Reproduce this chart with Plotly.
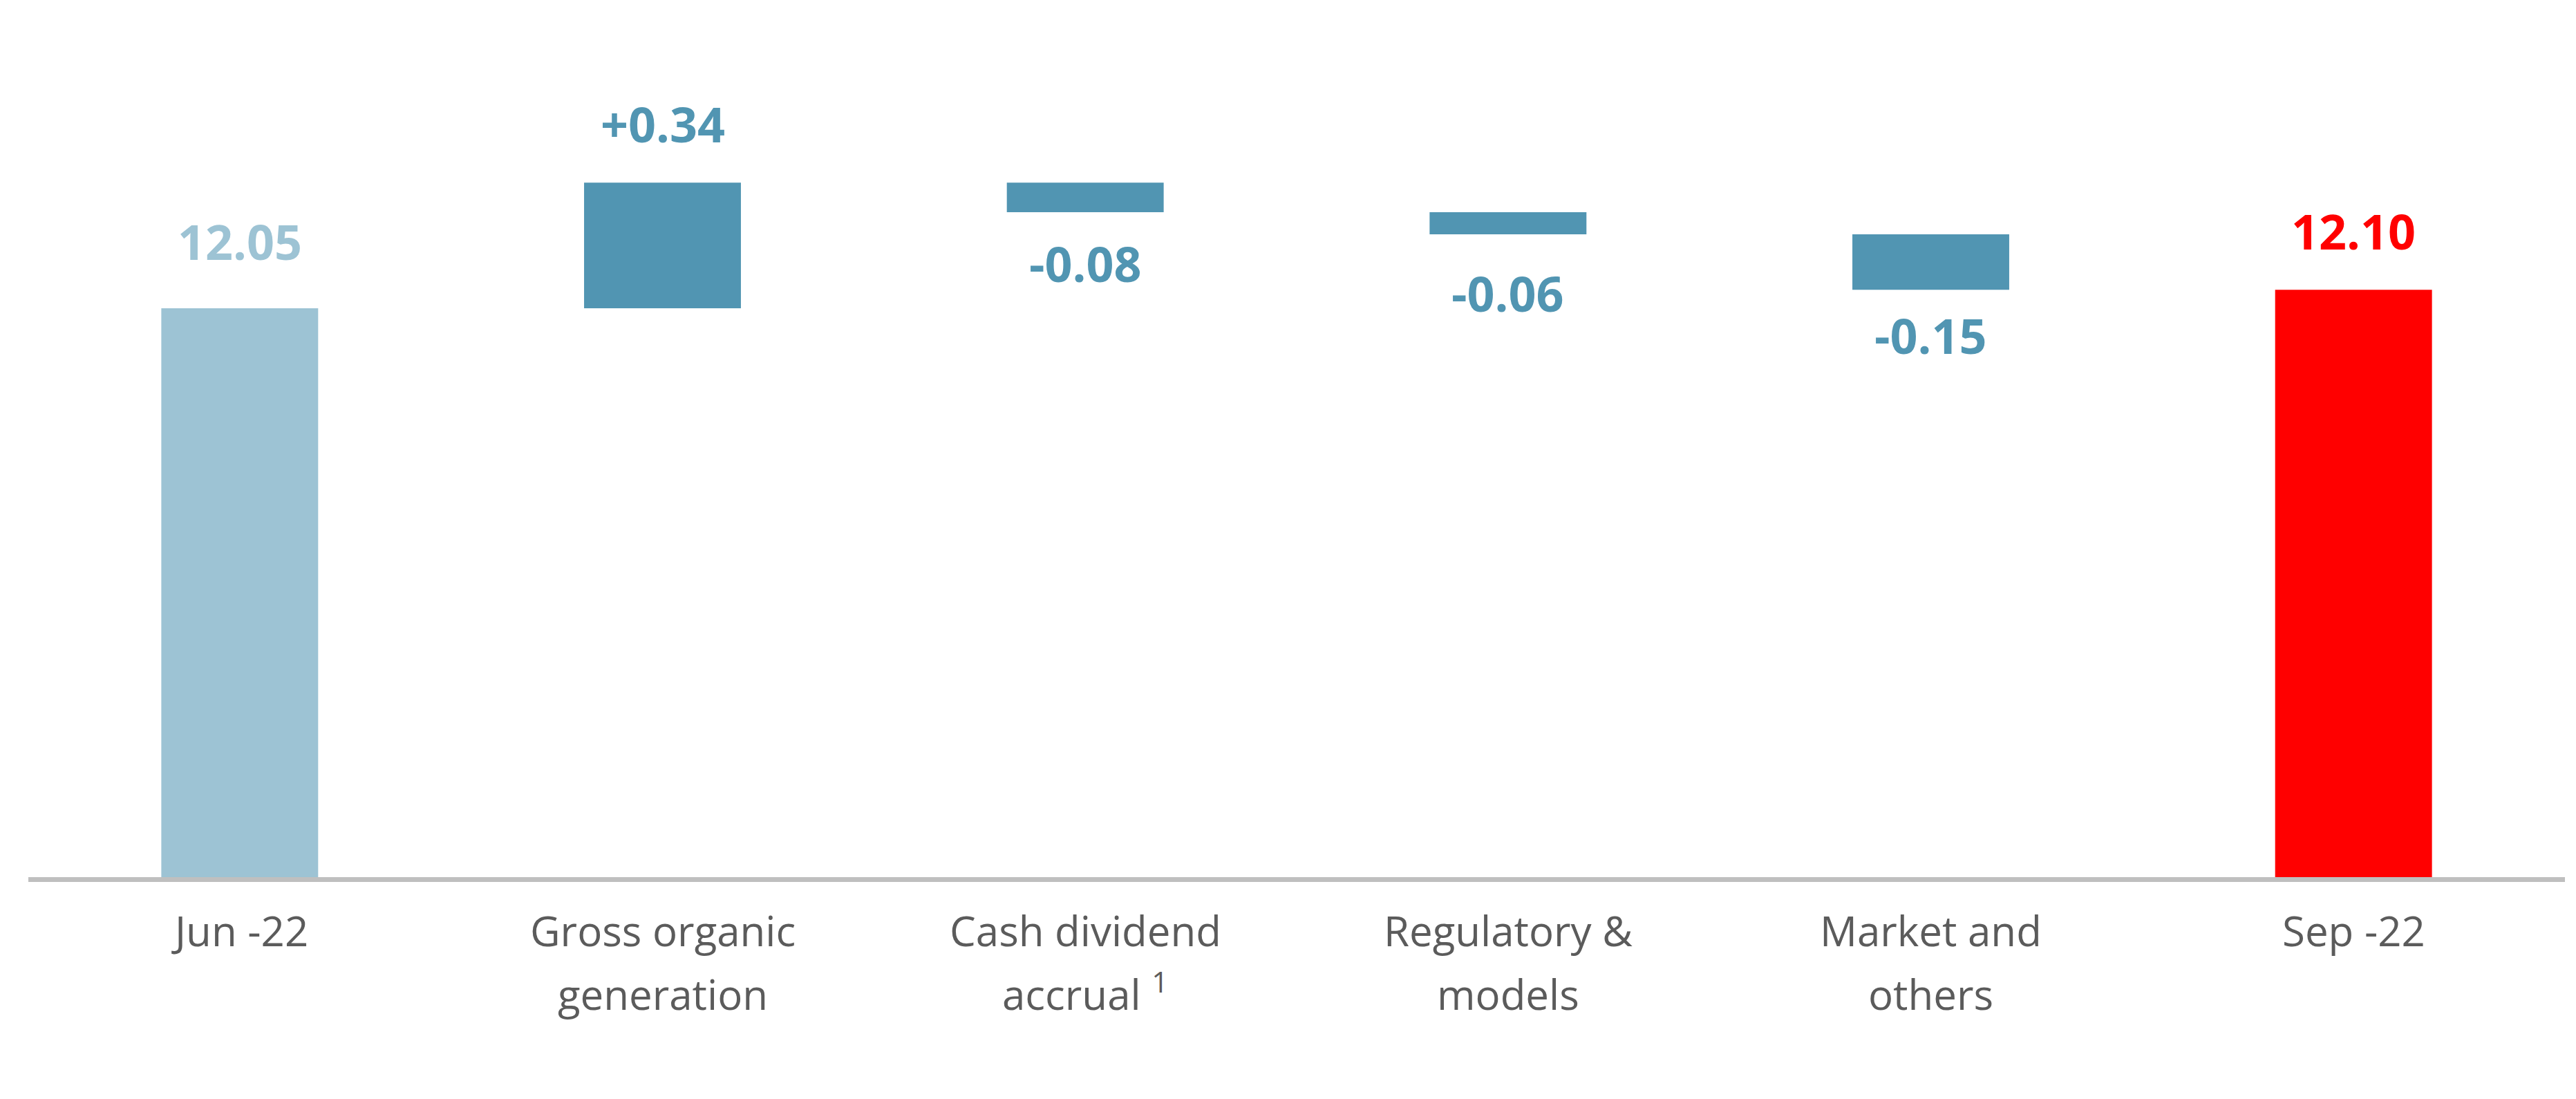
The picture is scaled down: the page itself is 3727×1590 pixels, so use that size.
import plotly.graph_objects as go

# ---- data ----
categories = ["Jun -22", "Gross organic generation", "Cash dividend accrual",
              "Regulatory & models", "Market and others", "Sep -22"]
tick_labels = ["Jun -22", "Gross organic<br>generation", "Cash dividend<br>accrual <sup>1</sup>",
               "Regulatory &<br>models", "Market and<br>others", "Sep -22"]
measures = ["absolute", "relative", "relative", "relative", "relative", "total"]
values = [12.05, 0.34, -0.08, -0.06, -0.15, 12.10]

# ---- styles ----
bar_colors = ["#9DC3D4", "#5195B2", "#5195B2", "#5195B2", "#5195B2", "#FF0000"]
label_colors = ["#9DC3D4", "#5195B2", "#5195B2", "#5195B2", "#5195B2", "#FF0000"]
label_shift = [97, 85, -74, -85, -66, 85]   # px offset of label centre from bar end
line_shift = [-120, -212]                   # px offsets of category label lines below the axis

# compute waterfall bases from the data
bases, heights = [], []
running = 0.0
for m, v in zip(measures, values):
    if m in ("absolute", "total"):
        bases.append(0.0)
        heights.append(v)
        running = v
    else:
        bases.append(running)
        heights.append(v)
        running = running + v

def fmt(m, v):
    if m == "relative":
        return f"{v:+.2f}"
    return f"{v:.2f}"

fig = go.Figure()
fig.add_trace(go.Bar(
    x=categories, y=heights, base=bases,
    marker=dict(color=bar_colors, line=dict(width=0)),
    width=0.371, hoverinfo="skip", showlegend=False,
))

for i, (c, m, v) in enumerate(zip(categories, measures, values)):
    top = bases[i] + max(heights[i], 0)
    bottom = bases[i] + min(heights[i], 0)
    yref_val = top if (m != "relative" or v >= 0) else bottom
    fig.add_annotation(
        x=c, y=yref_val, xref="x", yref="y",
        text=fmt(m, v), showarrow=False,
        yanchor="middle", xanchor="center", yshift=label_shift[i],
        font=dict(family="Open Sans", size=70, color=label_colors[i], weight="bold"),
    )

# category labels (one annotation per text line, to match the reference line spacing)
for c, lab in zip(categories, tick_labels):
    for k, line in enumerate(lab.split("<br>")):
        fig.add_annotation(
            x=c, y=0, xref="x", yref="paper",
            text=line, showarrow=False,
            yanchor="bottom", xanchor="center", yshift=line_shift[k],
            font=dict(family="Open Sans", size=60, color="#5B5B5B"),
        )

fig.update_layout(
    width=3727, height=1590,
    margin=dict(l=41, r=16, t=152, b=321, pad=0),
    paper_bgcolor="white", plot_bgcolor="white",
    xaxis=dict(
        showticklabels=False,
        showline=True, linecolor="#BFBFBF", linewidth=7,
        showgrid=False, zeroline=False, ticks="",
        range=[-0.5, 5.5],
    ),
    yaxis=dict(range=[10.51, 12.6], visible=False, showgrid=False, zeroline=False),
    font=dict(family="Open Sans"),
)

fig.write_html("out.html")
